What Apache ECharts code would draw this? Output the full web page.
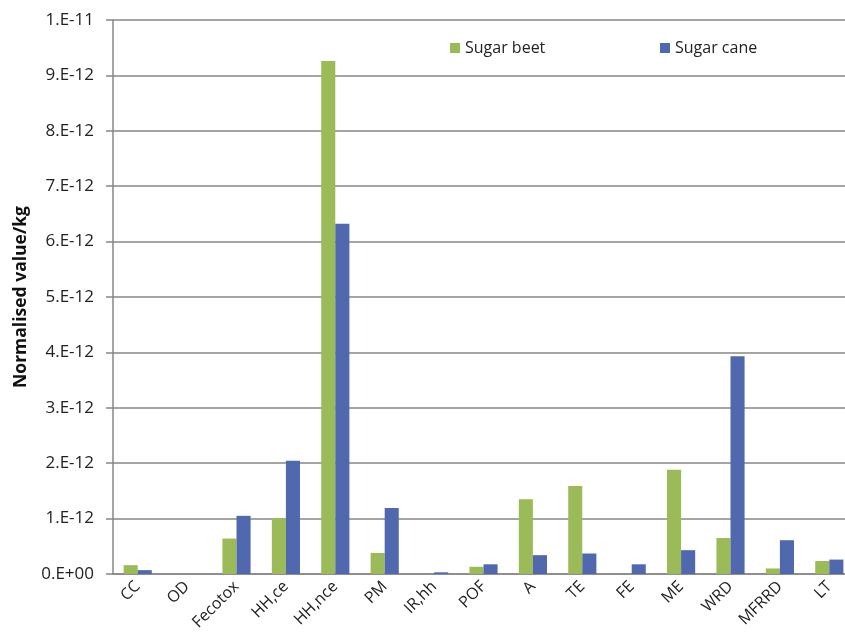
<!DOCTYPE html>
<html lang="en">
<head>
    <meta charset="UTF-8">
    <title>Normalised value per kg - sugar beet vs sugar cane</title>
    <script src="https://cdn.jsdelivr.net/npm/echarts@6/dist/echarts.min.js"></script>
    <style>
        html, body {
            margin: 0;
            padding: 0;
            background: #fff;
        }

        #main {
            width: 845px;
            height: 642px;
        }
    </style>
</head>
<body>
<div id="main"></div>
<script>
    // impact categories along the x axis
    var categories = ['CC', 'OD', 'Fecotox', 'HH,ce', 'HH,nce', 'PM', 'IR,hh', 'POF',
        'A', 'TE', 'FE', 'ME', 'WRD', 'MFRRD', 'LT'];
    // normalised values per kg
    var sugarBeet = [0.16e-12, 0, 0.64e-12, 1.01e-12, 9.26e-12, 0.38e-12, 0, 0.13e-12,
        1.35e-12, 1.59e-12, 0, 1.88e-12, 0.65e-12, 0.10e-12, 0.235e-12];
    var sugarCane = [0.07e-12, 0, 1.05e-12, 2.045e-12, 6.32e-12, 1.19e-12, 0.03e-12, 0.175e-12,
        0.34e-12, 0.37e-12, 0.175e-12, 0.43e-12, 3.93e-12, 0.61e-12, 0.26e-12];
    var yTickLabels = ['0.E+00', '1.E-12', '2.E-12', '3.E-12', '4.E-12', '5.E-12',
        '6.E-12', '7.E-12', '8.E-12', '9.E-12', '1.E-11'];

    var font = 'Open Sans';
    var gray = '#878787';

    var myChart = echarts.init(document.getElementById('main'));
    var option = {
        animation: false,
        textStyle: {fontFamily: font},
        grid: {
            left: 113,
            right: -9,
            top: 20,
            bottom: 68,
            outerBoundsMode: 'none'   // the last category runs off the right edge, as in the picture
        },
        legend: [
            {
                left: 445,
                top: 35,
                itemWidth: 10,
                itemHeight: 10,
                icon: 'rect',
                data: ['Sugar beet'],
                textStyle: {fontFamily: font, fontSize: 16, color: '#222'}
            },
            {
                left: 655,
                top: 35,
                itemWidth: 10,
                itemHeight: 10,
                icon: 'rect',
                data: ['Sugar cane'],
                textStyle: {fontFamily: font, fontSize: 16, color: '#222'}
            }
        ],
        xAxis: {
            type: 'category',
            data: categories,
            axisLine: {lineStyle: {color: gray, width: 1.5}},
            axisTick: {length: 7, lineStyle: {color: gray, width: 1.5}},
            axisLabel: {
                rotate: 45,
                fontSize: 16,
                color: '#222',
                margin: 10,
                interval: 0
            }
        },
        yAxis: {
            type: 'value',
            min: 0,
            max: 1e-11,
            interval: 1e-12,
            name: 'Normalised value/kg',
            nameLocation: 'middle',
            nameGap: 80,
            nameTextStyle: {fontFamily: font, fontSize: 17.5, fontWeight: 'bold', color: '#111'},
            axisLine: {show: true, lineStyle: {color: gray, width: 1.5}},
            axisTick: {show: true, length: 7, lineStyle: {color: gray, width: 1.5}},
            splitLine: {lineStyle: {color: gray, width: 1.5}},
            axisLabel: {
                fontSize: 17,
                color: '#222',
                margin: 19,
                formatter: function (v) {
                    return yTickLabels[Math.round(v / 1e-12)];
                }
            }
        },
        series: [
            {
                name: 'Sugar beet',
                type: 'bar',
                data: sugarBeet,
                barGap: '0%',
                barCategoryGap: '43%',
                itemStyle: {color: '#9bbb59'}
            },
            {
                name: 'Sugar cane',
                type: 'bar',
                data: sugarCane,
                barGap: '0%',
                barCategoryGap: '43%',
                itemStyle: {color: '#4f68ae'}
            }
        ]
    };
    myChart.setOption(option);
</script>
</body>
</html>
